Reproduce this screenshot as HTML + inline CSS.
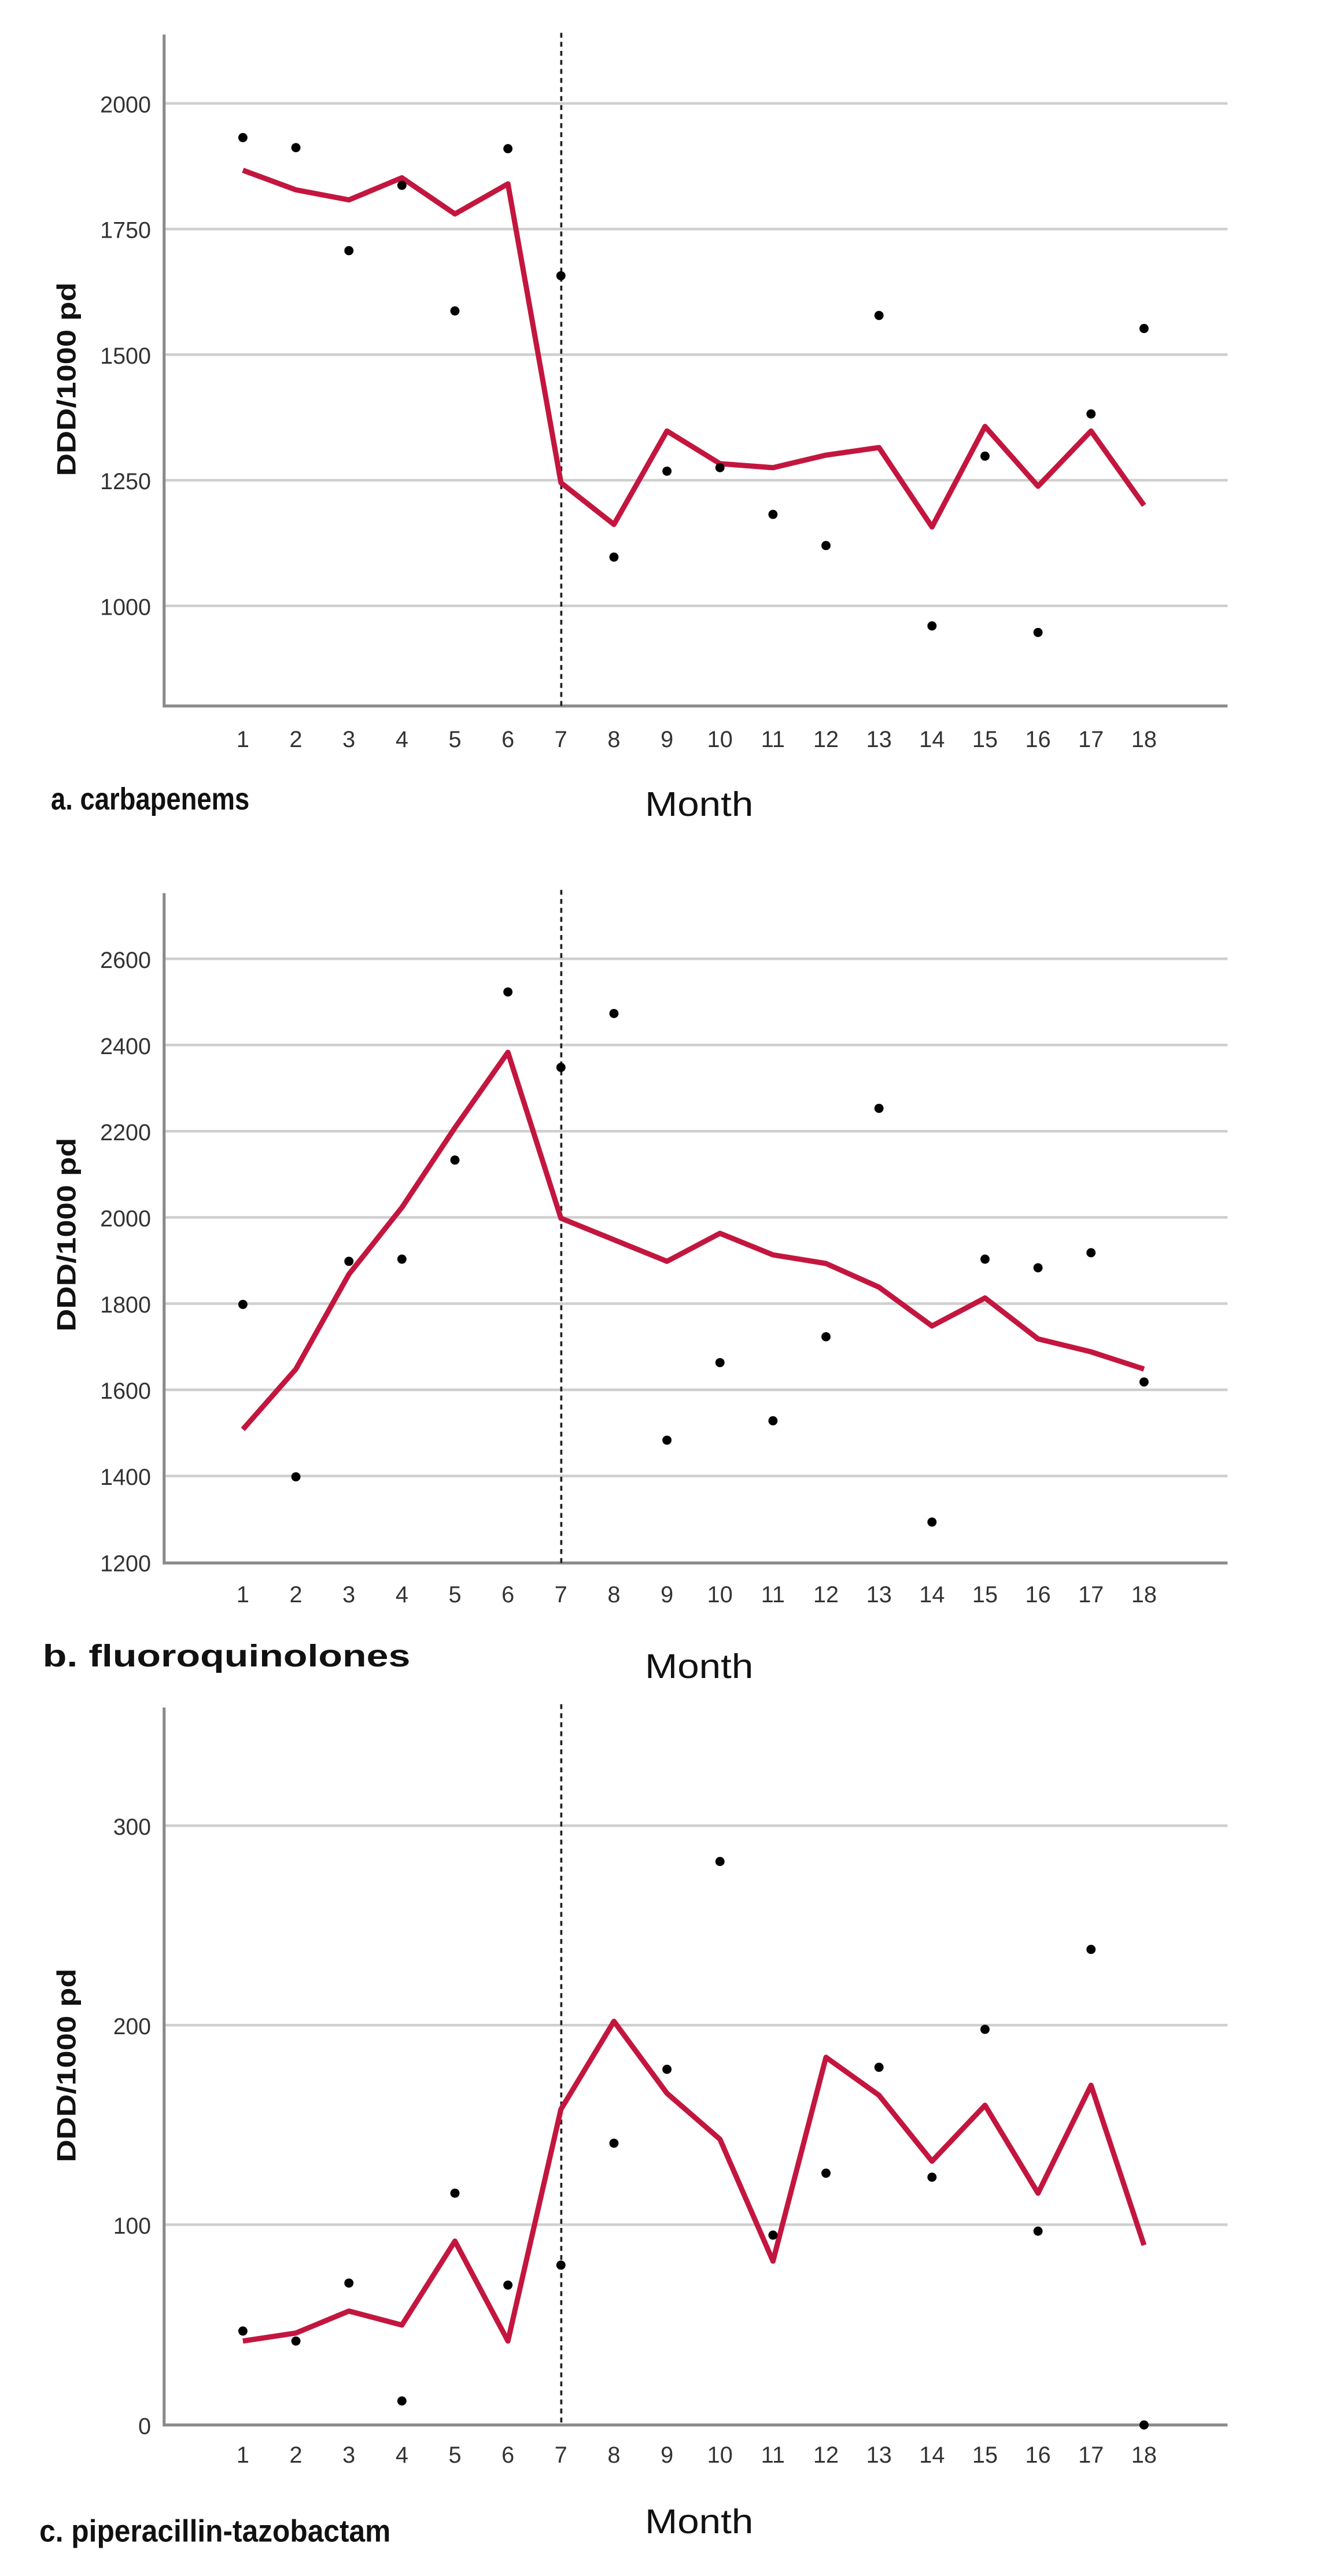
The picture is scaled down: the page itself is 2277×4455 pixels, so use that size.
<!DOCTYPE html>
<html><head><meta charset="utf-8"><style>
html,body{margin:0;padding:0;background:#fff}
svg{display:block}
text{font-family:"Liberation Sans",Arial,sans-serif;fill:#222}
.t{font-size:14px;fill:#333}
.yl{font-size:16px;font-weight:bold;fill:#111}
.cap{font-size:19px;font-weight:bold;fill:#111}
.mo{font-size:21px;fill:#111}
.g{stroke:#cfcfcf;stroke-width:1.6}
.ax{stroke:#8a8a8a;stroke-width:1.8;fill:none}
.ln{stroke:#c3163f;stroke-width:3.2;fill:none;stroke-linejoin:round}
.dash{stroke:#222;stroke-width:1.3;stroke-dasharray:3,2.5}
</style></head><body>
<svg width="2277" height="4455" viewBox="0 0 802.5 1569" preserveAspectRatio="none" xmlns="http://www.w3.org/2000/svg">
<!-- Chart a -->
<line class="g" x1="100" y1="63" x2="748" y2="63"/>
<line class="g" x1="100" y1="139.5" x2="748" y2="139.5"/>
<line class="g" x1="100" y1="216" x2="748" y2="216"/>
<line class="g" x1="100" y1="292.5" x2="748" y2="292.5"/>
<line class="g" x1="100" y1="369" x2="748" y2="369"/>
<polyline class="ax" points="100,21 100,430 748,430"/>
<line class="dash" x1="342" y1="20" x2="342" y2="430"/>
<g text-anchor="end"><text class="t" x="92" y="68.5" textLength="31" lengthAdjust="spacingAndGlyphs">2000</text><text class="t" x="92" y="145" textLength="31" lengthAdjust="spacingAndGlyphs">1750</text><text class="t" x="92" y="221.5" textLength="31" lengthAdjust="spacingAndGlyphs">1500</text><text class="t" x="92" y="298" textLength="31" lengthAdjust="spacingAndGlyphs">1250</text><text class="t" x="92" y="374.5" textLength="31" lengthAdjust="spacingAndGlyphs">1000</text></g>
<text class="yl" transform="translate(46,231) rotate(-90)" text-anchor="middle" textLength="118" lengthAdjust="spacingAndGlyphs">DDD/1000 pd</text>
<g text-anchor="middle"><text class="t" x="148" y="455">1</text><text class="t" x="180.3" y="455">2</text><text class="t" x="212.6" y="455">3</text><text class="t" x="244.9" y="455">4</text><text class="t" x="277.2" y="455">5</text><text class="t" x="309.5" y="455">6</text><text class="t" x="341.8" y="455">7</text><text class="t" x="374.1" y="455">8</text><text class="t" x="406.4" y="455">9</text><text class="t" x="438.7" y="455">10</text><text class="t" x="471" y="455">11</text><text class="t" x="503.3" y="455">12</text><text class="t" x="535.6" y="455">13</text><text class="t" x="567.9" y="455">14</text><text class="t" x="600.2" y="455">15</text><text class="t" x="632.5" y="455">16</text><text class="t" x="664.8" y="455">17</text><text class="t" x="697.1" y="455">18</text></g>
<text class="cap" x="31" y="493" textLength="121" lengthAdjust="spacingAndGlyphs">a. carbapenems</text>
<text class="mo" x="393" y="497" textLength="66" lengthAdjust="spacingAndGlyphs">Month</text>

<!-- Chart b -->
<line class="g" x1="100" y1="584" x2="748" y2="584"/>
<line class="g" x1="100" y1="636.5" x2="748" y2="636.5"/>
<line class="g" x1="100" y1="689" x2="748" y2="689"/>
<line class="g" x1="100" y1="741.5" x2="748" y2="741.5"/>
<line class="g" x1="100" y1="794" x2="748" y2="794"/>
<line class="g" x1="100" y1="846.5" x2="748" y2="846.5"/>
<line class="g" x1="100" y1="899" x2="748" y2="899"/>
<polyline class="ax" points="100,544 100,952 748,952"/>
<line class="dash" x1="342" y1="542" x2="342" y2="952"/>
<g text-anchor="end"><text class="t" x="92" y="589.5" textLength="31" lengthAdjust="spacingAndGlyphs">2600</text><text class="t" x="92" y="642" textLength="31" lengthAdjust="spacingAndGlyphs">2400</text><text class="t" x="92" y="694.5" textLength="31" lengthAdjust="spacingAndGlyphs">2200</text><text class="t" x="92" y="747" textLength="31" lengthAdjust="spacingAndGlyphs">2000</text><text class="t" x="92" y="799.5" textLength="31" lengthAdjust="spacingAndGlyphs">1800</text><text class="t" x="92" y="852" textLength="31" lengthAdjust="spacingAndGlyphs">1600</text><text class="t" x="92" y="904.5" textLength="31" lengthAdjust="spacingAndGlyphs">1400</text><text class="t" x="92" y="957" textLength="31" lengthAdjust="spacingAndGlyphs">1200</text></g>
<text class="yl" transform="translate(46,752) rotate(-90)" text-anchor="middle" textLength="118" lengthAdjust="spacingAndGlyphs">DDD/1000 pd</text>
<g text-anchor="middle"><text class="t" x="148" y="976">1</text><text class="t" x="180.3" y="976">2</text><text class="t" x="212.6" y="976">3</text><text class="t" x="244.9" y="976">4</text><text class="t" x="277.2" y="976">5</text><text class="t" x="309.5" y="976">6</text><text class="t" x="341.8" y="976">7</text><text class="t" x="374.1" y="976">8</text><text class="t" x="406.4" y="976">9</text><text class="t" x="438.7" y="976">10</text><text class="t" x="471" y="976">11</text><text class="t" x="503.3" y="976">12</text><text class="t" x="535.6" y="976">13</text><text class="t" x="567.9" y="976">14</text><text class="t" x="600.2" y="976">15</text><text class="t" x="632.5" y="976">16</text><text class="t" x="664.8" y="976">17</text><text class="t" x="697.1" y="976">18</text></g>
<text class="cap" x="26" y="1015" textLength="224" lengthAdjust="spacingAndGlyphs">b. fluoroquinolones</text>
<text class="mo" x="393" y="1022" textLength="66" lengthAdjust="spacingAndGlyphs">Month</text>

<!-- Chart c -->
<line class="g" x1="100" y1="1112" x2="748" y2="1112"/>
<line class="g" x1="100" y1="1233.5" x2="748" y2="1233.5"/>
<line class="g" x1="100" y1="1355" x2="748" y2="1355"/>
<polyline class="ax" points="100,1040 100,1477 748,1477"/>
<line class="dash" x1="342" y1="1038" x2="342" y2="1477"/>
<g text-anchor="end"><text class="t" x="92" y="1117.5" textLength="23" lengthAdjust="spacingAndGlyphs">300</text><text class="t" x="92" y="1239" textLength="23" lengthAdjust="spacingAndGlyphs">200</text><text class="t" x="92" y="1360.5" textLength="23" lengthAdjust="spacingAndGlyphs">100</text><text class="t" x="92" y="1482.5">0</text></g>
<text class="yl" transform="translate(46,1258) rotate(-90)" text-anchor="middle" textLength="118" lengthAdjust="spacingAndGlyphs">DDD/1000 pd</text>
<g text-anchor="middle"><text class="t" x="148" y="1500">1</text><text class="t" x="180.3" y="1500">2</text><text class="t" x="212.6" y="1500">3</text><text class="t" x="244.9" y="1500">4</text><text class="t" x="277.2" y="1500">5</text><text class="t" x="309.5" y="1500">6</text><text class="t" x="341.8" y="1500">7</text><text class="t" x="374.1" y="1500">8</text><text class="t" x="406.4" y="1500">9</text><text class="t" x="438.7" y="1500">10</text><text class="t" x="471" y="1500">11</text><text class="t" x="503.3" y="1500">12</text><text class="t" x="535.6" y="1500">13</text><text class="t" x="567.9" y="1500">14</text><text class="t" x="600.2" y="1500">15</text><text class="t" x="632.5" y="1500">16</text><text class="t" x="664.8" y="1500">17</text><text class="t" x="697.1" y="1500">18</text></g>
<text class="cap" x="24" y="1548" textLength="214" lengthAdjust="spacingAndGlyphs">c. piperacillin-tazobactam</text>
<text class="mo" x="393" y="1543" textLength="66" lengthAdjust="spacingAndGlyphs">Month</text>
<g id="data"></g>
</svg>
<script>
(function(){
var NS="http://www.w3.org/2000/svg",g=document.getElementById("data");
function X(m){return 148+(m-1)*32.3;}
var charts=[
 {f:function(v){return 369-(v-1000)*0.306;},
  p:[1932,1912,1707,1837,1587,1910,1657,1097,1268,1275,1182,1120,1578,960,1298,947,1382,1552],
  l:[1867,1828,1808,1852,1780,1840,1245,1162,1348,1283,1275,1300,1315,1157,1357,1238,1348,1200]},
 {f:function(v){return 952-(v-1200)*0.2625;},
  p:[1800,1400,1900,1905,2135,2525,2350,2475,1485,1665,1530,1725,2255,1295,1905,1885,1920,1620],
  l:[1510,1650,1870,2025,2210,2385,2000,1950,1900,1965,1915,1895,1840,1750,1815,1720,1690,1650]},
 {f:function(v){return 1477-v*1.217;},
  p:[47,42,71,12,116,70,80,141,178,282,95,126,179,124,198,97,238,0],
  l:[42,46,57,50,92,42,158,202,166,143,82,184,165,132,160,116,170,90]}
];
charts.forEach(function(c){
 var pts=c.l.map(function(v,i){return X(i+1)+","+c.f(v);}).join(" ");
 var pl=document.createElementNS(NS,"polyline");pl.setAttribute("class","ln");pl.setAttribute("points",pts);g.appendChild(pl);
 c.p.forEach(function(v,i){var ci=document.createElementNS(NS,"circle");ci.setAttribute("cx",X(i+1));ci.setAttribute("cy",c.f(v));ci.setAttribute("r","2.8");ci.setAttribute("fill","#000");g.appendChild(ci);});
});
})();
</script>
</body></html>
